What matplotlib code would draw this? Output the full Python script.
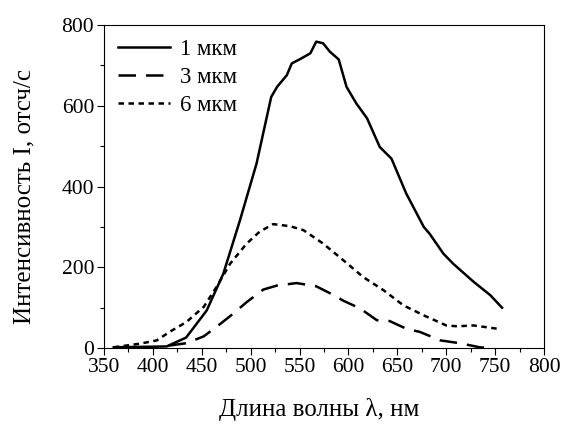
import matplotlib
matplotlib.use("Agg")
import matplotlib.pyplot as plt
from matplotlib.ticker import MultipleLocator

plt.rcParams["font.family"] = ["Liberation Serif", "DejaVu Serif"]

# 1 мкм
wl_1 = [360, 414, 434, 455, 472, 489, 506, 521, 527, 537, 542, 550, 561, 567,
        574, 581, 590, 598, 608, 619, 632, 644, 659, 677, 683, 697, 707, 728,
        745, 757]
i_1 = [2, 4, 26, 93, 184, 316, 457, 622, 647, 676, 705, 715, 730, 759,
       755, 734, 715, 647, 606, 569, 498, 469, 383, 300, 283, 234, 209, 164,
       131, 100]

# 3 мкм
wl_3 = [360, 404, 434, 452, 469, 482, 496, 513, 527, 547, 567, 581, 595, 612,
        629, 642, 659, 673, 694, 714, 734, 745]
i_3 = [0, 2, 12, 29, 60, 85, 114, 145, 155, 161, 153, 136, 117, 98,
       69, 67, 48, 40, 19, 12, 2, 0]

# 6 мкм
wl_6 = [360, 387, 404, 417, 434, 452, 465, 479, 496, 509, 523, 540, 554, 574,
        595, 615, 636, 656, 677, 700, 711, 728, 752]
i_6 = [2, 11, 19, 40, 64, 102, 151, 209, 259, 288, 307, 302, 292, 259,
       217, 176, 143, 106, 81, 56, 54, 56, 48]

fig = plt.figure(figsize=(5.65, 4.25), dpi=100)
ax = fig.add_axes([0.184, 0.181, 0.779, 0.760])

ax.plot(wl_1, i_1, color="black", lw=1.8, label="1 мкм")
ax.plot(wl_3, i_3, color="black", lw=1.8, dashes=(7, 4), label="3 мкм")
ax.plot(wl_6, i_6, color="black", lw=1.8, dashes=(2.2, 1.8), label="6 мкм")

ax.set_xlim(350, 800)
ax.set_ylim(0, 800)
ax.xaxis.set_major_locator(MultipleLocator(50))
ax.xaxis.set_minor_locator(MultipleLocator(25))
ax.yaxis.set_major_locator(MultipleLocator(200))
ax.yaxis.set_minor_locator(MultipleLocator(100))
ax.tick_params(which="both", direction="out", labelsize=15.5, width=0.8)
ax.tick_params(which="major", length=5, pad=2)
ax.tick_params(which="minor", length=3)
for s in ax.spines.values():
    s.set_linewidth(0.8)

ax.set_xlabel("Длина волны λ, нм", fontsize=18)
ax.set_ylabel("Интенсивность I, отсч/с", fontsize=18)
ax.xaxis.set_label_coords(0.49, -0.19, transform=ax.transAxes)
ax.yaxis.set_label_coords(-0.18, 0.47, transform=ax.transAxes)
ax.xaxis.label.set_va("center")
ax.yaxis.label.set_va("center")

ax.legend(loc="upper left", frameon=False, fontsize=16.5, handlelength=2.3,
          handletextpad=0.4, labelspacing=0.3, borderaxespad=0.2)

fig.savefig("out.png", dpi=100)
